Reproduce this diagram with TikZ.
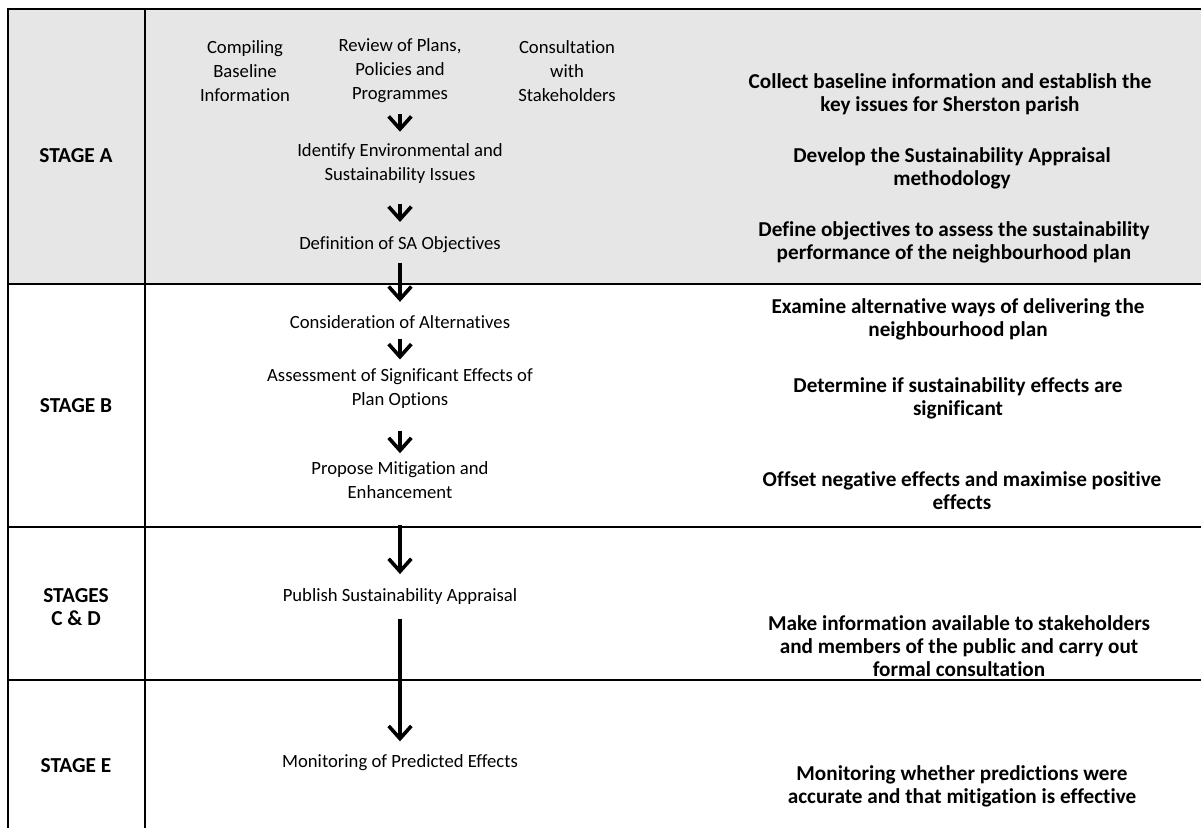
\documentclass[tikz,border=0pt]{standalone}
\usepackage{fontspec}
\setmainfont{Carlito}[Ligatures=NoCommon]
\usetikzlibrary{arrows.meta}
\definecolor{stageGrey}{RGB}{231,230,230}
\tikzset{
     stageNode/.style =
        { font=\bfseries\fontsize{16}{17.5}\selectfont
        , align=center
        , inner sep=0pt
        },
     stepNode/.style =
        { font=\fontsize{14}{18}\selectfont
        , align=center
        , inner sep=0pt
        },
     aimNode/.style =
        { font=\bfseries\fontsize{15.9}{17.4}\selectfont
        , align=center
        , inner sep=0pt
        },
     tableLine/.style =
        { line width=1.4pt
        %, draw=black!85
        },
     flowArrow/.style =
        { line width=2.7pt
        , -{Straight Barb[length=9.5pt,width=17pt]}
        }
}
\begin{document}
\begin{tikzpicture}
            [ x=0.75pt
            , y=-0.75pt
            ]
            \useasboundingbox (0,0) rectangle (1201,828);
            \fill[stageGrey] (8,9) rectangle (1201,284);

            % table
            \draw[tableLine] (1201,9) -- (8,9) -- (8,828);
            \draw[tableLine] (145,9) -- (145,828);
            \draw[tableLine] (8,284) -- (1201,284);
            \draw[tableLine] (8,527) -- (1201,527);
            \draw[tableLine] (8,680) -- (1201,680);

            \node[stageNode] (sA) at (76,156) {STAGE A};
            \node[stageNode] (sB) at (76,406) {STAGE B};
            \node[stageNode] (sCD) at (76,607) {STAGES\\C \& D};
            \node[stageNode] (sE) at (76,766) {STAGE E};

            \node[stepNode] (base) at (245,71) {Compiling\\Baseline\\Information};
            \node[stepNode] (rev) at (400,71) {Review of Plans,\\Policies and\\Programmes};
            \node[stepNode] (cons) at (567,71) {Consultation\\with\\Stakeholders};
            \node[stepNode] (ident) at (400,164) {Identify Environmental and\\Sustainability Issues};
            \node[stepNode] (defn) at (400,245) {Definition of SA Objectives};
            \node[stepNode] (alt) at (400,322) {Consideration of Alternatives};
            \node[stepNode] (assess) at (400,389) {Assessment of Significant Effects of\\Plan Options};
            \node[stepNode] (mitig) at (400,480) {Propose Mitigation and\\Enhancement};
            \node[stepNode] (publ) at (400,597) {Publish Sustainability Appraisal};
            \node[stepNode] (monit) at (400,763) {Monitoring of Predicted Effects};

            \node[aimNode] (aBase) at (950,94) {Collect baseline information and establish the\\key issues for Sherston parish};
            \node[aimNode] (aMeth) at (952,168) {Develop the Sustainability Appraisal\\methodology};
            \node[aimNode] (aObj) at (954,242) {Define objectives to assess the sustainability\\performance of the neighbourhood plan};
            \node[aimNode] (aAlt) at (958,319) {Examine alternative ways of delivering the\\neighbourhood plan};
            \node[aimNode] (aSig) at (958,398) {Determine if sustainability effects are\\significant};
            \node[aimNode] (aOff) at (962,491) {Offset negative effects and maximise positive\\effects};
            \node[aimNode] (aPub) at (959,646) {Make information available to stakeholders\\and members of the public and carry out\\formal consultation};
            \node[aimNode] (aMon) at (962,786) {Monitoring whether predictions were\\accurate and that mitigation is effective};

            \path[flowArrow]
            (rev) edge [shorten <=8pt, shorten >=9pt] (ident)
            (ident) edge [shorten <=15pt, shorten >=11pt] (defn)
            (defn) edge [shorten <=7pt, shorten >=10pt] (alt)
            (alt) edge [shorten <=8pt, shorten >=7pt] (assess)
            (assess) edge [shorten <=16pt, shorten >=6pt] (mitig)
            (mitig) edge [shorten <=20pt, shorten >=11pt] (publ)
            (publ) edge [shorten <=10pt, shorten >=10pt] (monit)
            ;
\end{tikzpicture}
\end{document}
